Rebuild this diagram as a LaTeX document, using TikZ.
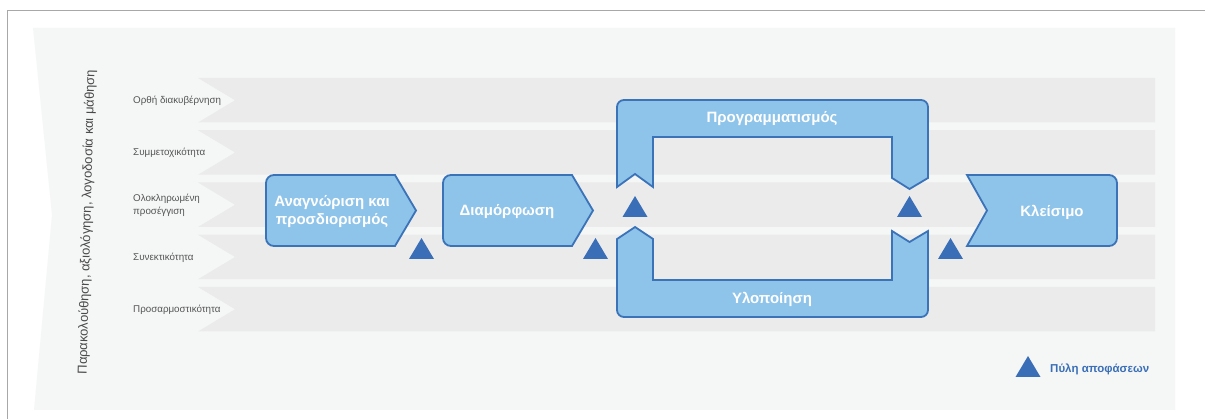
\documentclass[tikz,border=0pt]{standalone}
\usepackage{fontspec}
\setmainfont{Liberation Sans}
\definecolor{panelc}{HTML}{F5F6F6}
\definecolor{stripec}{HTML}{EBEBEB}
\definecolor{boxfill}{HTML}{8EC3EA}
\definecolor{boxline}{HTML}{3B73B9}
\definecolor{gatec}{HTML}{3A6FB7}
\definecolor{labelc}{HTML}{555555}
\definecolor{vtextc}{HTML}{4A4A4A}
\definecolor{framec}{HTML}{A8A8A8}
\tikzset{
  bluebox/.style={fill=boxfill, draw=boxline, line width=1.8pt, line join=miter},
  boxtext/.style={text=white, font=\fontsize{15}{18}\selectfont\bfseries, align=center, inner sep=0pt},
  sidelabel/.style={text=labelc, font=\fontsize{9.8}{12.8}\selectfont, align=left, anchor=west, inner sep=0pt},
  gatefill/.style={fill=gatec}
}
\newcommand{\stripeat}[1]{%
  \fill[stripec] (198,#1) -- (1155,#1) -- (1155,#1+44.5) -- (198,#1+44.5) -- (235,#1+22.25) -- cycle;}
\newcommand{\gateat}[2]{%
  \fill[gatefill] (#1-12.5,#2) -- (#1+12.5,#2) -- (#1,#2-21) -- cycle;}
\begin{document}
\begin{tikzpicture}[x=1pt,y=-1pt]
\useasboundingbox (0,0) rectangle (1205,419);
\fill[white] (0,0) rectangle (1205,419);
% frame
\draw[framec, line width=1.2pt] (7.5,419) -- (7.5,10.5) -- (1205,10.5);
% panel
\fill[panelc] (33,28) -- (1175,28) -- (1175,410) -- (34,410) -- (52,215) -- cycle;
% stripes
\stripeat{78}
\stripeat{130.25}
\stripeat{182.5}
\stripeat{234.75}
\stripeat{287}
% side labels
\node[sidelabel] (l1) at (133,100.5) {Ορθή διακυβέρνηση};
\node[sidelabel] (l2) at (133,153) {Συμμετοχικότητα};
\node[sidelabel] (l3) at (133,205.5) {Ολοκληρωμένη\\προσέγγιση};
\node[sidelabel] (l4) at (133,258) {Συνεκτικότητα};
\node[sidelabel] (l5) at (133,310) {Προσαρμοστικότητα};
% vertical text
\node[text=vtextc, font=\fontsize{13}{15}\selectfont, rotate=88.5, inner sep=0pt] (vt) at (87,222)
  {Παρακολούθηση, αξιολόγηση, λογοδοσία και μάθηση};
% box 1
\draw[bluebox] (330,175) [rounded corners=8] -- (266,175) -- (266,246) -- (330,246) [sharp corners] -- (395,246) -- (416,210.5) -- (395,175) -- cycle;
\node[boxtext] (b1) at (332,211.5) {Αναγνώριση και\\προσδιορισμός};
% box 2
\draw[bluebox] (510,175) [rounded corners=8] -- (443,175) -- (443,246) -- (510,246) [sharp corners] -- (572,246) -- (593,210.5) -- (572,175) -- cycle;
\node[boxtext] (b2) at (507,212) {Διαμόρφωση};
% planning loop (top)
\draw[bluebox] (772,100) [rounded corners=7] -- (617,100) -- (617,150) [sharp corners] -- (617,187) -- (635,174) -- (653,187) -- (653,137) -- (892,137) -- (892,178) -- (909.5,189) -- (928,178) -- (928,150) [rounded corners=7] -- (928,100) -- cycle;
\node[boxtext] (b3) at (772,119) {Προγραμματισμός};
% implementation loop (bottom)
\draw[bluebox] (772,317) [rounded corners=7] -- (617,317) -- (617,280) [sharp corners] -- (617,239) -- (635,227) -- (653,239) -- (653,280) -- (892,280) -- (892,231) -- (909.5,242) -- (928,231) -- (928,280) [rounded corners=7] -- (928,317) -- cycle;
\node[boxtext] (b4) at (772,299) {Υλοποίηση};
% closing
\draw[bluebox] (967,175) -- (1040,175) [rounded corners=8] -- (1117,175) -- (1117,246) -- (1040,246) [sharp corners] -- (967,246) -- (987,210.5) -- cycle;
\node[boxtext] (b5) at (1052,212) {Κλείσιμο};
% gates
\gateat{421.5}{259}
\gateat{595.5}{259}
\gateat{635}{217}
\gateat{909.5}{217}
\gateat{950.5}{259}
% legend
\gateat{1028}{377}
\node[text=gatec, font=\fontsize{11.5}{13.5}\selectfont\bfseries, anchor=west, inner sep=0pt] (leg) at (1050,369.5) {Πύλη αποφάσεων};
\end{tikzpicture}
\end{document}
